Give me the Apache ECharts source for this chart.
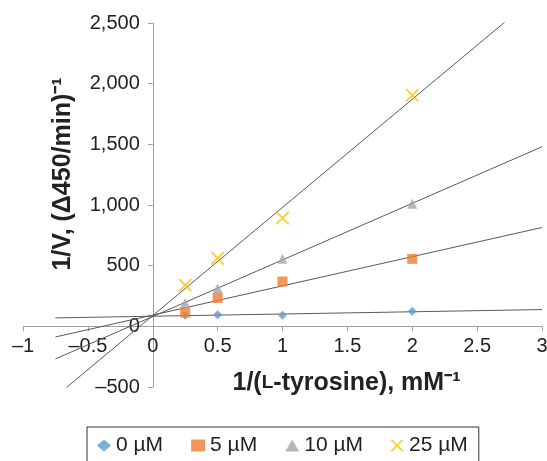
<!DOCTYPE html>
<html>
<head>
<meta charset="utf-8">
<script src="https://cdn.jsdelivr.net/npm/echarts@6/dist/echarts.min.js"></script>
<style>
  html, body { margin: 0; padding: 0; background: #fff; }
  #chart { width: 547px; height: 461px; }
</style>
</head>
<body>
<div id="chart"></div>
<script>
// 1/[L-tyrosine] values (mM^-1)
const substrate = [0.25, 0.5, 1, 2];
// 1/V for each inhibitor concentration
const v0 = [91, 96, 91, 124];
const v5 = [115, 234, 369, 556];
const v10 = [193, 314, 556, 1010];
const v25 = [338, 562, 892, 1905];
const seriesNames = ["0 \u00b5M", "5 \u00b5M", "10 \u00b5M", "25 \u00b5M"];
const colors = ["#5b9bd5", "#ed7d31", "#a5a5a5", "#ffc000"];
// Excel-style linear trendline, forecast 1 unit backward and forward
const trendRange = [-0.75, 3];
const xRange = [-1, 3];
const yRange = [-500, 2500];

const xPath = "path://M0,0 L1,0 L5,4 L9,0 L10,0 L10,1 L6,5 L10,9 L10,10 L9,10 L5,6 L1,10 L0,10 L0,9 L4,5 L0,1 Z";
const symbols = ["diamond", "rect", "triangle", xPath];
const sizes = [9, 10, 10, 13];

function fit(xs, ys) {
  const n = xs.length;
  const mx = xs.reduce((a, b) => a + b, 0) / n;
  const my = ys.reduce((a, b) => a + b, 0) / n;
  let sxy = 0, sxx = 0;
  for (let i = 0; i < n; i++) {
    sxy += (xs[i] - mx) * (ys[i] - my);
    sxx += (xs[i] - mx) * (xs[i] - mx);
  }
  const slope = sxy / sxx;
  return { slope: slope, icept: my - slope * mx };
}

const dash = (v) => String(v).replace("-", "\u2013");
const allValues = [v0, v5, v10, v25];

const series = [];
allValues.forEach((vals, i) => {
  const f = fit(substrate, vals);
  series.push({
    type: "line",
    name: "trend" + i,
    data: trendRange.map((x) => [x, f.icept + f.slope * x]),
    symbol: "none",
    lineStyle: { color: "#595959", width: 1 },
    silent: true,
    z: 1
  });
});
allValues.forEach((vals, i) => {
  series.push({
    type: "scatter",
    name: seriesNames[i],
    data: substrate.map((x, j) => [x, vals[j]]),
    symbol: symbols[i],
    symbolSize: sizes[i],
    itemStyle: { color: colors[i] },
    z: 3
  });
});

// axes cross at the origin: shift them inward from the grid edges
const grid = { left: 23, right: 5, top: 23, bottom: 74 };
const plotW = 547 - grid.left - grid.right;
const plotH = 461 - grid.top - grid.bottom;
const yAxisOffset = -plotW * (0 - xRange[0]) / (xRange[1] - xRange[0]);
const xAxisOffset = -plotH * (0 - yRange[0]) / (yRange[1] - yRange[0]);

const chart = echarts.init(document.getElementById("chart"));
chart.setOption({
  animation: false,
  textStyle: { fontFamily: "Liberation Sans, Arial, sans-serif" },
  grid: Object.assign({ outerBoundsMode: "none", containLabel: false }, grid),
  legend: {
    data: seriesNames,
    left: 87,
    top: 427,
    borderColor: "#333",
    borderWidth: 1,
    padding: [8, 11, 8, 10],
    itemWidth: 14,
    itemHeight: 12,
    itemGap: 28,
    textStyle: { fontSize: 21, color: "#222" }
  },
  xAxis: {
    type: "value",
    min: xRange[0],
    max: xRange[1],
    interval: 0.5,
    offset: xAxisOffset,
    name: "1/({sc|L}-tyrosine), mM\u207b\u00b9",
    nameLocation: "middle",
    nameGap: 44,
    nameTextStyle: {
      fontSize: 25,
      fontWeight: "bold",
      color: "#222",
      padding: [0, 0, 0, 128],
      rich: { sc: { fontSize: 19, fontWeight: "bold", color: "#222" } }
    },
    splitLine: { show: false },
    axisLine: { onZero: false, lineStyle: { color: "#a0a0a0" } },
    axisTick: { length: 5, lineStyle: { color: "#a0a0a0" } },
    axisLabel: { fontSize: 20, color: "#222", margin: 10, formatter: dash }
  },
  yAxis: {
    type: "value",
    min: yRange[0],
    max: yRange[1],
    interval: 500,
    offset: yAxisOffset,
    name: "1/V, (\u0394450/min)\u207b\u00b9",
    nameLocation: "middle",
    nameGap: 77,
    nameTextStyle: {
      fontSize: 25,
      fontWeight: "bold",
      color: "#222",
      padding: [0, 0, 0, 62]
    },
    splitLine: { show: false },
    axisLine: { show: true, onZero: false, lineStyle: { color: "#a0a0a0" } },
    axisTick: { show: true, length: 5, lineStyle: { color: "#a0a0a0" } },
    axisLabel: {
      fontSize: 20,
      color: "#222",
      margin: 13,
      formatter: (v) => dash(v.toLocaleString("en-US"))
    }
  },
  series: series
});
</script>
</body>
</html>
